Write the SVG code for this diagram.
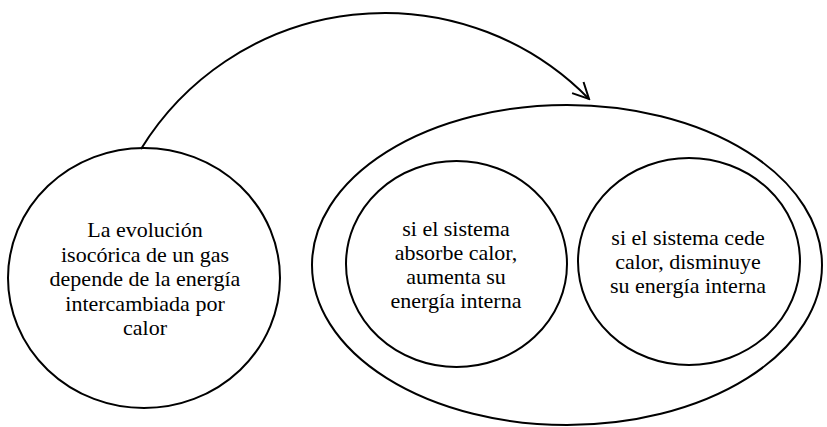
<svg xmlns="http://www.w3.org/2000/svg" width="827" height="427" viewBox="0 0 827 427">
<style>
.shape{fill:none;stroke:#000;stroke-width:2}
.conn{fill:none;stroke:#000;stroke-width:2}
text{font-family:"Liberation Serif","DejaVu Serif",serif;text-anchor:middle;fill:#000;font-size:22px}
</style>
<defs>
<marker id="arrow" viewBox="0 0 20 20" refX="18" refY="10" markerWidth="20" markerHeight="20" markerUnits="userSpaceOnUse" orient="auto">
<polyline points="2,2 18,10 2,18" fill="none" stroke="#000" stroke-width="2"/>
</marker>
</defs>
<rect width="827" height="427" fill="#fff"/>
<g id="connectors">
<path class="conn" d="M141,149 A286,286 0 0 1 589,99" marker-end="url(#arrow)"/>
</g>
<g id="node-evolucion">
<ellipse class="shape" cx="144" cy="278" rx="136" ry="130"/>
<text x="145" y="237">La evolución</text>
<text x="145" y="261.5">isocórica de un gas</text>
<text x="145" y="286">depende de la energía</text>
<text x="145" y="310.5">intercambiada por</text>
<text x="145" y="335">calor</text>
</g>
<g id="node-grupo">
<ellipse class="shape" cx="567" cy="265" rx="255" ry="160"/>
</g>
<g id="node-absorbe">
<ellipse class="shape" cx="456.5" cy="264" rx="110.5" ry="103"/>
<text x="456" y="236">si el sistema</text>
<text x="456" y="260">absorbe calor,</text>
<text x="456" y="284">aumenta su</text>
<text x="456" y="308">energía interna</text>
</g>
<g id="node-cede">
<ellipse class="shape" cx="689" cy="261.5" rx="111" ry="103.5"/>
<text x="688" y="245">si el sistema cede</text>
<text x="688" y="269">calor, disminuye</text>
<text x="688" y="293">su energía interna</text>
</g>
</svg>
